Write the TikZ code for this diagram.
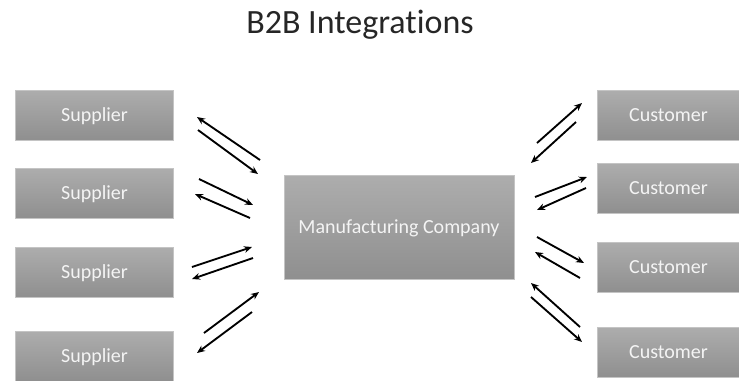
\documentclass[tikz,border=0pt]{standalone}
\usepackage{fontspec}
\setmainfont{Carlito}[Ligatures=NoCommon]
\usetikzlibrary{arrows.meta}
\definecolor{boxtop}{HTML}{ADADAD}
\definecolor{boxbot}{HTML}{8F8F8F}
\definecolor{boxline}{HTML}{C4C4C4}
\definecolor{boxtext}{HTML}{F4F4F4}
\definecolor{titletext}{HTML}{262626}
\tikzset{
  party/.style={rectangle,draw=boxline,line width=.6pt,top color=boxtop,bottom color=boxbot,
    text=boxtext,font=\fontsize{15}{18}\selectfont,inner sep=0pt,text depth=0pt},
  supbox/.style={party,minimum width=119pt,minimum height=37.5pt},
  cusbox/.style={party,minimum width=107pt,minimum height=37.5pt},
  flow/.style={line width=1.4pt,-{Stealth[length=6pt,width=5pt]}}
}
\begin{document}
\begin{tikzpicture}[x=.75pt,y=-.75pt]
\useasboundingbox (0,0) rectangle (739,380);
\node[anchor=base,text=titletext,font=\fontsize{25.5}{30}\selectfont] (title) at (360,33) {B2B Integrations};
% suppliers
\node[supbox] (sup1) at (94.5,115) {Supplier};
\node[supbox] (sup2) at (94.5,193) {Supplier};
\node[supbox] (sup3) at (94.5,272) {Supplier};
\node[supbox] (sup4) at (94.5,356) {Supplier};
% company
\node[party,minimum width=172.5pt,minimum height=78pt] (comp) at (399,227) {Manufacturing Company};
% customers
\node[cusbox] (cus1) at (668.5,115.5) {Customer};
\node[cusbox] (cus2) at (668.5,188) {Customer};
\node[cusbox] (cus3) at (668.5,267) {Customer};
\node[cusbox] (cus4) at (668.5,352) {Customer};
% arrow ends
\foreach \i/\xa/\ya/\xb/\yb in {1/260/160/197/117,2/198/130/258/174,3/199/179/253/205,4/250/218/195/194,
  5/192/267/252/247,6/253/258/192/279,7/204/333/259/292,8/252/312/197/353,
  9/537/143/582/103,10/576/122/531/163,11/535/197/587/177,12/586/188/537/210,
  13/537/237/584/263,14/580/278/535/252,15/580/327/531/283,16/531/297/582/342}{
  \coordinate (a\i) at (\xa,\ya);
  \coordinate (b\i) at (\xb,\yb);
}
\foreach \i in {1,...,16}
  \draw[flow] (a\i) -- (b\i);
\end{tikzpicture}
\end{document}
